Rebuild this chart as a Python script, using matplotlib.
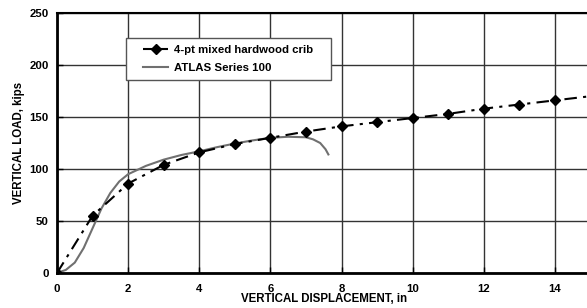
import matplotlib
matplotlib.use("Agg")
import matplotlib.pyplot as plt
from matplotlib.lines import Line2D
from matplotlib.patches import Rectangle

plt.rcParams['font.family'] = ['Liberation Sans', 'DejaVu Sans']
plt.rcParams['font.weight'] = 'bold'

crib_x = [0, 1, 2, 3, 4, 5, 6, 7, 8, 9, 10, 11, 12, 13, 14]
crib_y = [0, 55, 86, 104, 116, 124, 130, 136, 141, 145, 149, 153, 158, 162, 166]
crib_ext_x = [14, 15]
crib_ext_y = [166, 170]

atlas_x = [0, 0.25, 0.5, 0.75, 1.0, 1.25, 1.5, 1.75, 2.0, 2.5, 3.0, 3.5, 4.0, 4.5, 5.0, 5.5, 6.0, 6.5, 7.0, 7.2, 7.4, 7.55, 7.63]
atlas_y = [0, 3, 10, 24, 43, 62, 77, 88, 95, 103, 109, 113.5, 117, 121, 124.5, 127.5, 130, 131, 130.5, 128.5, 125, 119, 114]

xticks = [0, 2, 4, 6, 8, 10, 12, 14]
yticks = [0, 50, 100, 150, 200, 250]

W, H = 587, 308
fig = plt.figure(figsize=(W/100, H/100), dpi=100)
left, right, top, bottom = 57, 590.5, 13, 273
ax = fig.add_axes([left/W, 1-bottom/H, (right-left)/W, (bottom-top)/H])
ax.set_xlim(0, 15)
ax.set_ylim(0, 250)

dash = (0, (6, 3, 1.5, 3))
ax.plot(atlas_x, atlas_y, color='#707070', lw=1.5, zorder=3)
ax.plot(crib_x + crib_ext_x[1:], crib_y + crib_ext_y[1:], color='black', lw=1.5,
        linestyle=dash, zorder=4)
ax.plot(crib_x, crib_y, linestyle='none', marker='D', markersize=5.5,
        color='black', zorder=5)

ax.set_xticks(xticks)
ax.set_yticks(yticks)
ax.grid(True, color='#333333', lw=1.0)
ax.set_axisbelow(True)
ax.tick_params(axis='both', labelsize=8.2, length=4, width=1, direction='in')
ax.tick_params(axis='x', pad=8)
ax.tick_params(axis='y', pad=6)
for lab in ax.get_xticklabels() + ax.get_yticklabels():
    lab.set_fontweight('bold')

ax.spines['left'].set_linewidth(2)
ax.spines['bottom'].set_linewidth(2)
ax.spines['top'].set_linewidth(1.5)
ax.spines['right'].set_visible(False)

ax.set_xlabel('VERTICAL DISPLACEMENT, in', fontsize=8.3, fontweight='bold', labelpad=-1)
ax.set_ylabel('VERTICAL LOAD, kips', fontsize=8.3, fontweight='bold', labelpad=3)

# legend frame
fig.patches.append(Rectangle((126/W, 1-80/H), (331-126)/W, (80-38)/H,
                             transform=fig.transFigure, facecolor='white',
                             edgecolor='#555555', lw=1, zorder=5))

handles = [Line2D([0], [0], color='black', lw=1.5, linestyle=(0, (5, 2)), marker='D', markersize=5),
           Line2D([0], [0], color='#707070', lw=1.5)]
leg = fig.legend(handles, ['4-pt mixed hardwood crib', 'ATLAS Series 100'],
                 loc='center left', bbox_to_anchor=(143/W, 1-59.2/H),
                 prop={'weight': 'bold', 'size': 8.2},
                 frameon=False, borderpad=0, labelspacing=0.72,
                 handlelength=2.2, handletextpad=0.5, borderaxespad=0)
leg.set_zorder(6)

fig.savefig('out.png', dpi=100)
